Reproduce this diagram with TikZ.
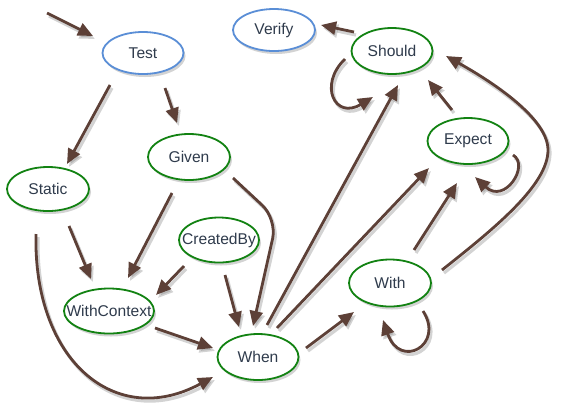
\documentclass[tikz,border=0pt]{standalone}
\usepackage{fontspec}
\setmainfont{Liberation Sans}
\usetikzlibrary{arrows.meta,shadows,shapes.geometric}
\definecolor{brn}{HTML}{5D4037}
\definecolor{bluel}{HTML}{5A8ED6}
\definecolor{greenl}{HTML}{128212}
\definecolor{txt}{HTML}{2F3B4C}
\newcommand{\lbl}[1]{\makebox[0pt]{#1}}
\begin{document}
\begin{tikzpicture}[x=1bp,y=-1bp,
  st/.style={ellipse,draw,line width=1.8bp,fill=white,inner sep=0pt,
    minimum width=81bp,minimum height=45bp,text=txt,
    font=\fontsize{15.6bp}{18bp}\selectfont,
    drop shadow={shadow xshift=2bp,shadow yshift=-3bp,opacity=0.35,fill=black!50}},
  blue st/.style={st,draw=bluel},
  green st/.style={st,draw=greenl},
  edge/.style={draw=brn,line width=2.8bp,-{Triangle[length=15bp,width=13bp]},
    preaction={draw=black!50,line width=3.2bp,opacity=0.35,transform canvas={xshift=2bp,yshift=-3bp}}}]
\useasboundingbox (0,0) rectangle (562,411);
% nodes
\node[blue st,minimum height=42bp] (Test) at (143,53) {\lbl{Test}};
\node[blue st,minimum width=82bp,minimum height=42bp] (Verify) at (274,30) {\lbl{Verify}};
\node[green st,minimum height=46bp] (Should) at (392,51) {\lbl{Should}};
\node[green st,minimum width=82bp,minimum height=46bp] (Given) at (189,157) {\lbl{Given}};
\node[green st,minimum width=82bp,minimum height=44bp] (Static) at (48,189) {\lbl{Static}};
\node[green st,minimum height=46bp] (Expect) at (468,141) {\lbl{Expect}};
\node[green st,minimum width=80bp] (CreatedBy) at (219,240) {\lbl{CreatedBy}};
\node[green st,minimum width=90bp] (WithContext) at (109,311) {\lbl{WithContext}};
\node[green st,minimum height=46bp] (When) at (258,357) {\lbl{When}};
\node[green st,minimum width=82bp,minimum height=47bp] (With) at (390,283) {\lbl{With}};
\coordinate (entry) at (47,13);
% edges
\draw[edge] (entry) -- ([shift={(-50,-17)}]Test.center);
\draw[edge] ([shift={(-33,32)}]Test.center) -- ([shift={(19,-25)}]Static.center);
\draw[edge] ([shift={(22,35)}]Test.center) -- ([shift={(-12,-34)}]Given.center);
\draw[edge] ([shift={(-38,-19)}]Should.center) -- ([shift={(47,-5)}]Verify.center);
\draw[edge] ([shift={(-47,8)}]Should.center) .. controls (318,85) and (335,120) .. ([shift={(-19,46)}]Should.center);
\draw[edge] ([shift={(9,-32)}]When.center) -- ([shift={(6,34)}]Should.center);
\draw[edge] ([shift={(-16,-31)}]Expect.center) -- ([shift={(36,29)}]Should.center);
\draw[edge] ([shift={(45,14)}]Expect.center) .. controls (530,165) and (505,205) .. ([shift={(7,36)}]Expect.center);
\draw[edge] ([shift={(52,-13)}]With.center) .. controls (495,228) and (548,185) .. (548,150) .. controls (548,115) and (480,75) .. ([shift={(54,5)}]Should.center);
\draw[edge] ([shift={(24,-33)}]With.center) -- ([shift={(-11,42)}]Expect.center);
\draw[edge] ([shift={(33,28)}]With.center) .. controls (445,345) and (400,370) .. ([shift={(-7,37)}]With.center);
\draw[edge] ([shift={(48,-9)}]When.center) -- ([shift={(-36,29)}]With.center);
\draw[edge] ([shift={(21,37)}]Static.center) -- ([shift={(-18,-32)}]WithContext.center);
\draw[edge] ([shift={(-17,36)}]Given.center) -- ([shift={(19,-33)}]WithContext.center);
\draw[edge] ([shift={(-35,26)}]CreatedBy.center) -- ([shift={(47,-16)}]WithContext.center);
\draw[edge] ([shift={(6,35)}]CreatedBy.center) -- ([shift={(-19,-30)}]When.center);
\draw[edge,rounded corners=20bp] ([shift={(44,21)}]Given.center) -- (277,219) -- ([shift={(-5,-31)}]When.center);
\draw[edge] ([shift={(46,17)}]WithContext.center) -- ([shift={(-45,-9)}]When.center);
\draw[edge] ([shift={(-12,45)}]Static.center) .. controls (33,360) and (115,430) .. ([shift={(-45,20)}]When.center);
\draw[edge] ([shift={(19,-29)}]When.center) -- ([shift={(-39,27)}]Expect.center);
\end{tikzpicture}
\end{document}
